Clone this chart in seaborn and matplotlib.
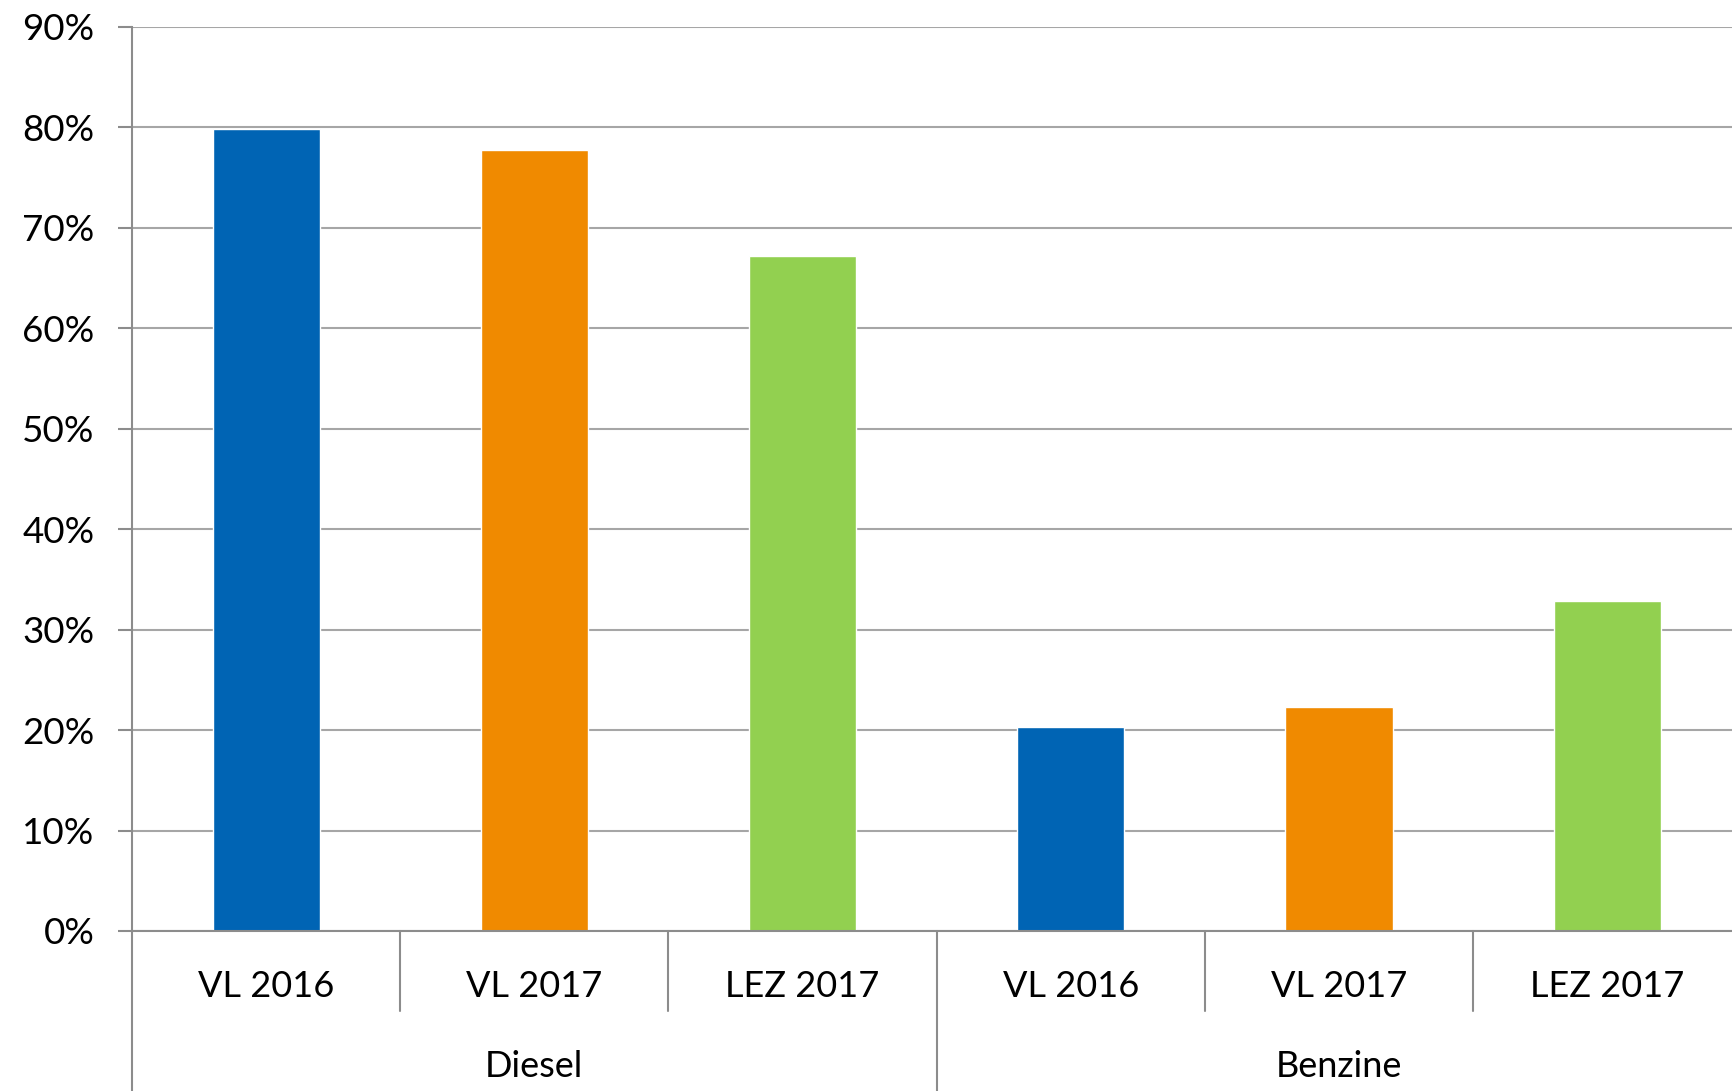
import matplotlib
matplotlib.use("Agg")
import matplotlib.pyplot as plt
import matplotlib.transforms as mtransforms
from matplotlib.ticker import PercentFormatter
import seaborn as sns
import pandas as pd

# data
fuels      = ["Diesel", "Diesel", "Diesel", "Benzine", "Benzine", "Benzine"]
categories = ["VL 2016", "VL 2017", "LEZ 2017", "VL 2016", "VL 2017", "LEZ 2017"]
shares     = [0.798, 0.777, 0.672, 0.203, 0.223, 0.328]
groups     = ["Diesel", "Benzine"]
y_ticks    = [0, 0.1, 0.2, 0.3, 0.4, 0.5, 0.6, 0.7, 0.8, 0.9]

palette = {"VL 2016": "#0064B4", "VL 2017": "#F08A00", "LEZ 2017": "#92D050"}
GRID = "#A6A6A6"
AXIS = "#8C8C8C"

df = pd.DataFrame({"fuel": fuels, "cat": categories, "share": shares})
df["slot"] = [f"{f}|{c}" for f, c in zip(fuels, categories)]

sns.set_theme(style="white")
plt.rcParams["font.family"] = ["Lato", "DejaVu Sans"]

fig = plt.figure(figsize=(17.33, 10.91), dpi=100)
# the plot area runs slightly past the right edge of the picture
ax = fig.add_axes([0.0762, 0.1467, 0.9286, 0.8286])

sns.barplot(data=df, x="slot", y="share", hue="cat", palette=palette,
            dodge=False, width=0.4, legend=False, ax=ax, saturation=1)

ax.set_xlim(-0.5, len(df) - 0.5)
ax.set_ylim(0, 0.9)
ax.set_yticks(y_ticks)
ax.yaxis.set_major_formatter(PercentFormatter(1.0, decimals=0))
ax.tick_params(axis="y", labelsize=26.5, length=10, width=1.5, color=AXIS,
               pad=17, left=True, labelcolor="black")
ax.set_xticks([])
ax.set_xlabel("")
ax.set_ylabel("")
ax.grid(axis="y", color=GRID, linewidth=1.5)
ax.set_axisbelow(True)
for s in ["top", "right"]:
    ax.spines[s].set_visible(False)
for s in ["left", "bottom"]:
    ax.spines[s].set_color(AXIS)
    ax.spines[s].set_linewidth(1.5)

# multi-level category axis
trans = mtransforms.blended_transform_factory(ax.transData, ax.transAxes)
for i, c in enumerate(categories):
    ax.text(i, -0.061, c, transform=trans, ha="center", va="center",
            fontsize=26, color="black")
    if i > 0:
        bottom = -0.21 if fuels[i] != fuels[i - 1] else -0.088
        ax.plot([i - 0.5, i - 0.5], [0, bottom], transform=trans,
                color=AXIS, linewidth=1.5, clip_on=False)
ax.plot([-0.5, -0.5], [0, -0.21], transform=trans, color=AXIS,
        linewidth=1.5, clip_on=False)
for g in groups:
    idx = [i for i, f in enumerate(fuels) if f == g]
    ax.text(sum(idx) / len(idx), -0.15, g, transform=trans, ha="center",
            va="center", fontsize=26, color="black")

fig.savefig("out.png", dpi=100)
